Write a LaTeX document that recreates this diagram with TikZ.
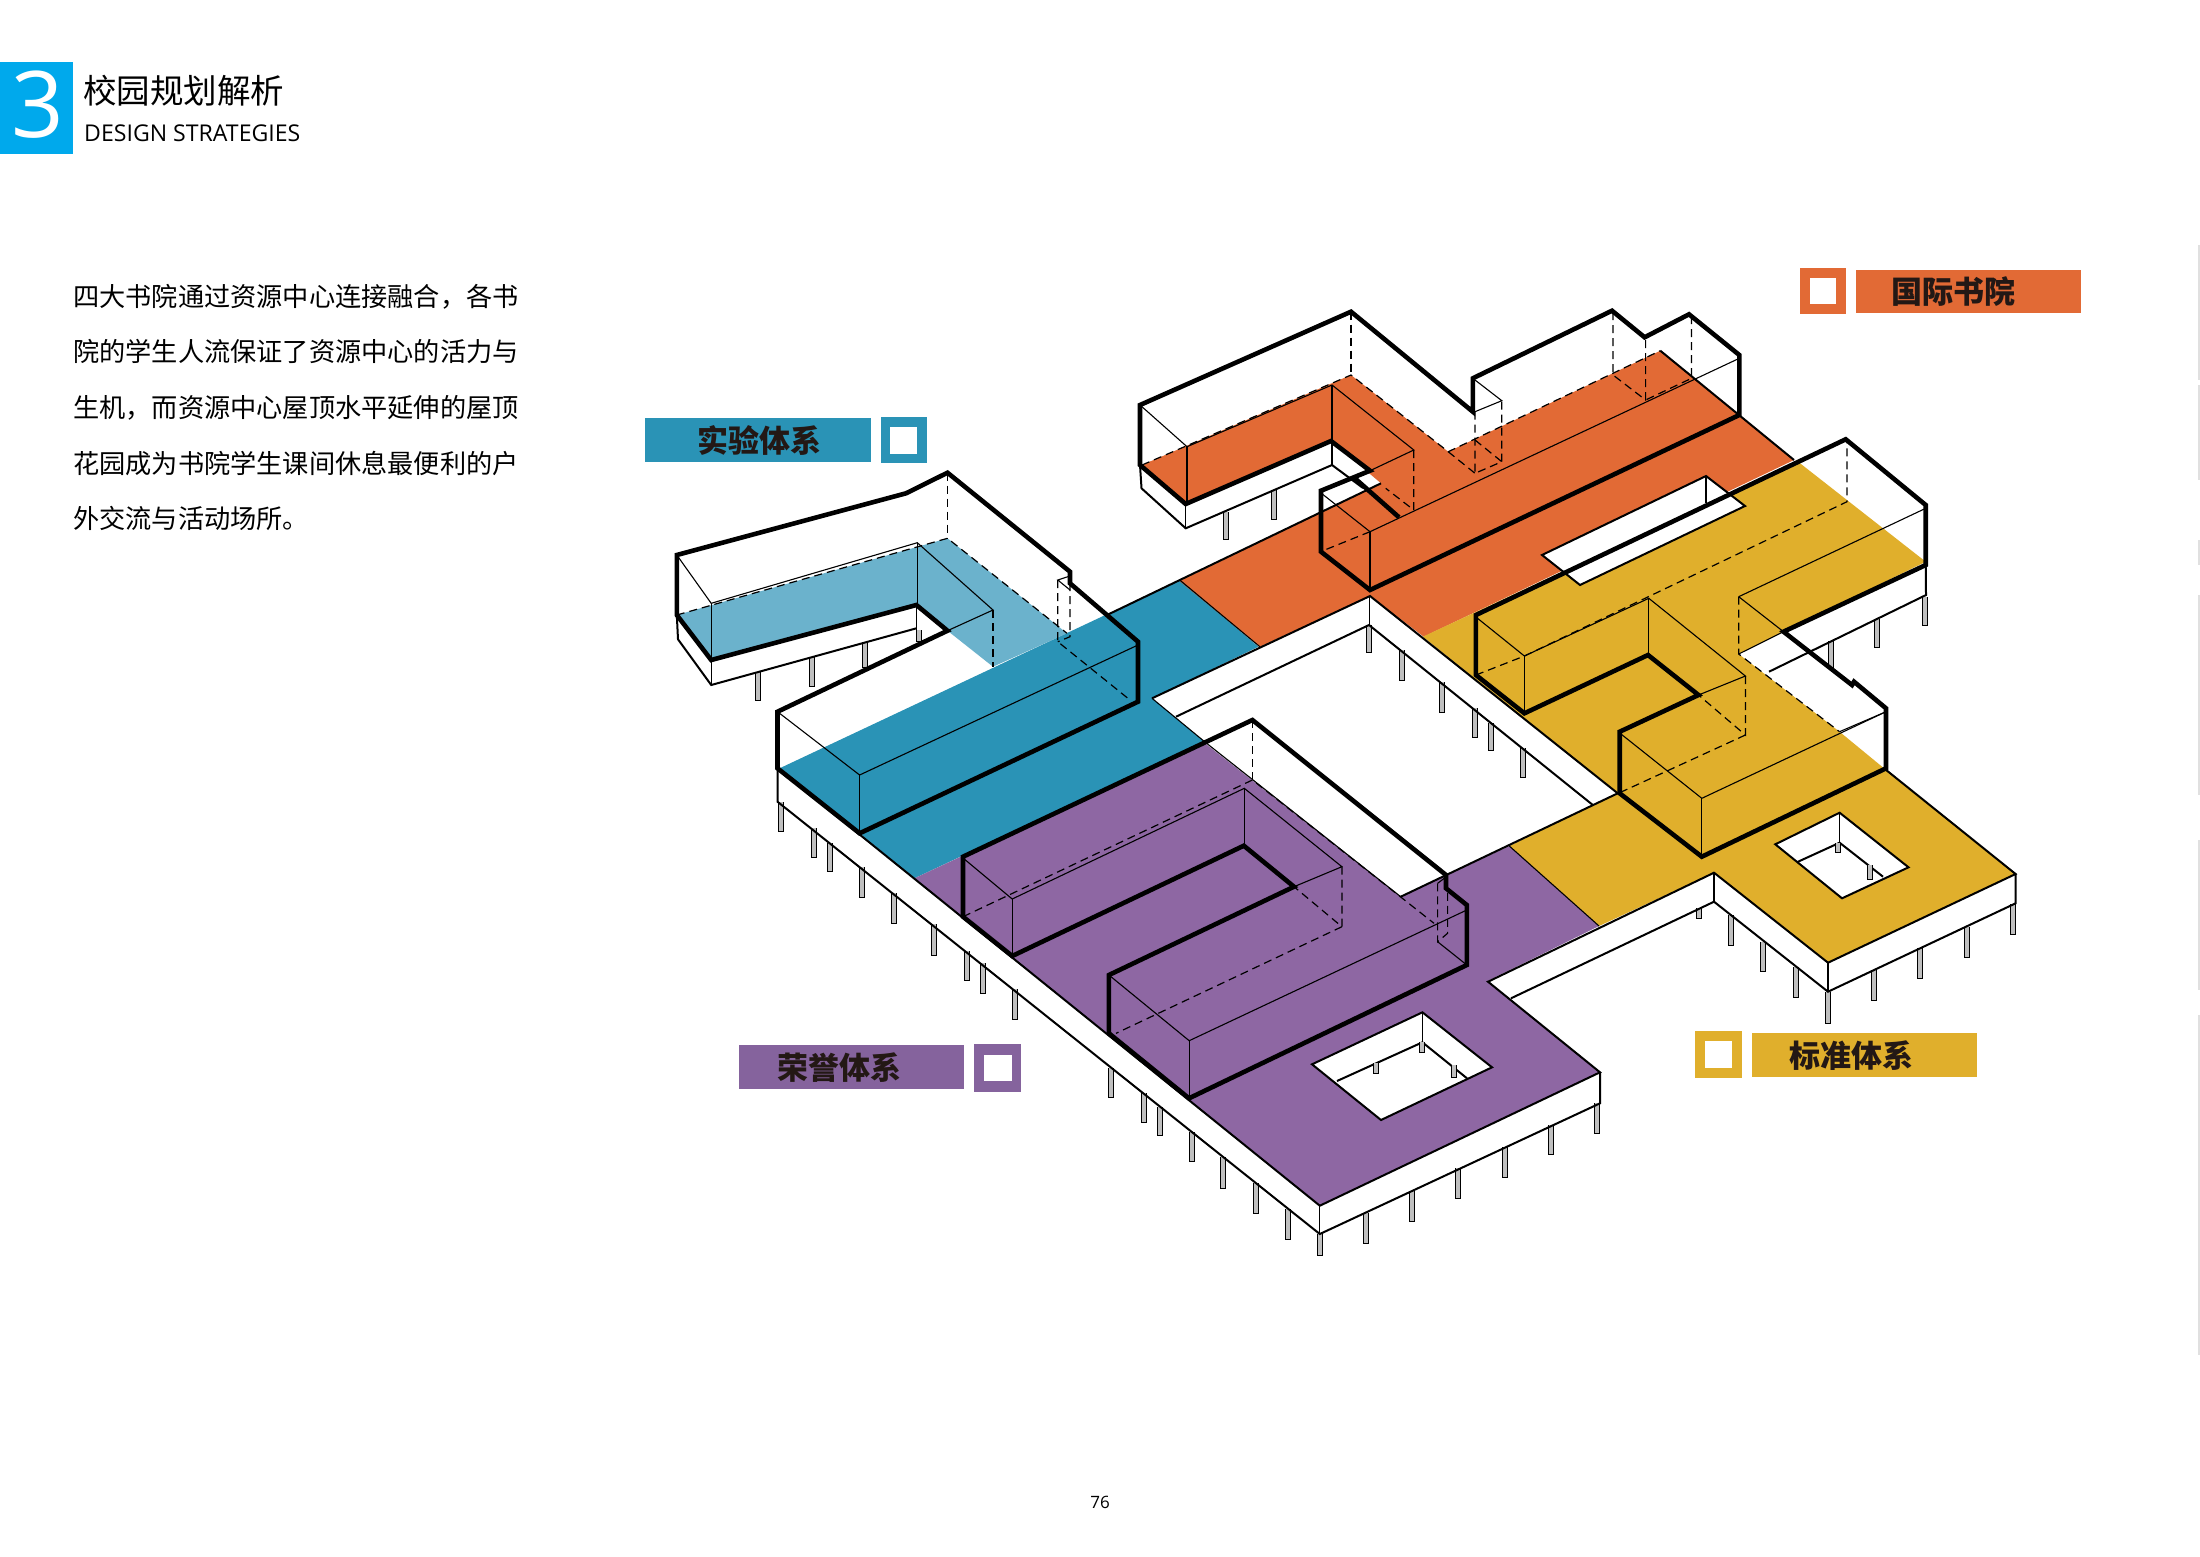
\documentclass[tikz,border=0pt]{standalone}
\usepackage{fontspec}
\setmainfont{Open Sans}
\newfontfamily\cjk{Noto Sans CJK SC}
\definecolor{cBlue}{HTML}{2A93B6}
\definecolor{cLight}{HTML}{6BB2CC}
\definecolor{cOrange}{HTML}{E26A35}
\definecolor{cYellow}{HTML}{E0AF2C}
\definecolor{cPurple}{HTML}{8E67A3}
\definecolor{cLegP}{HTML}{85639D}
\definecolor{cHead}{HTML}{00A9EC}
\definecolor{cInk}{HTML}{231815}
\tikzset{
  wall/.style={draw=black,line width=4.6,line join=miter},
  thin box/.style={draw=black,line width=1.1},
  edgeline/.style={draw=black,line width=2},
  hid/.style={draw=black,line width=1.2,dash pattern=on 8pt off 5pt},
  pillar/.style={draw=black,line width=1,fill=black!25},
  legtext/.style={font=\cjk\bfseries\fontsize{31}{31}\selectfont,text=cInk,inner sep=0},
  body/.style={font=\cjk\fontsize{26.2}{26.2}\selectfont,anchor=west,inner sep=0,text=black},
}
\begin{document}
\begin{tikzpicture}[x=1pt,y=-1pt]
\useasboundingbox (0,0) rectangle (2200,1556);
\fill[white] (0,0) rectangle (2200,1556);
% faint trace at the right edge of the page
\draw[black!12,line width=1.5] (2199,245) -- (2199,380) (2199,385) -- (2199,480) (2199,540) -- (2199,565) (2199,595) -- (2199,795) (2199,840) -- (2199,990) (2199,1015) -- (2199,1355);
% header
\fill[cHead] (0,61.7) rectangle (73,154.3);
\node[inner sep=0,text=white,font=\fontsize{92}{92}\selectfont] (num) at (37.5,104.5) {3};
\node[inner sep=0,anchor=west,font=\cjk\fontsize{33.5}{33.5}\selectfont] (title) at (83,91) {校园规划解析};
\node[inner sep=0,anchor=west,font=\fontsize{23.1}{23.1}\selectfont] (sub) at (84,133) {DESIGN STRATEGIES};
% paragraph
\node[body] (l1) at (73,296.7) {四大书院通过资源中心连接融合，各书};
\node[body] (l2) at (73,351.7) {院的学生人流保证了资源中心的活力与};
\node[body] (l3) at (73,408.3) {生机，而资源中心屋顶水平延伸的屋顶};
\node[body] (l4) at (73,463.3) {花园成为书院学生课间休息最便利的户};
\node[body] (l5) at (73,518.3) {外交流与活动场所。};
\node[inner sep=0,font=\fontsize{17}{17}\selectfont] (page) at (1100,1502) {76};
% legends
\fill[cBlue] (645,418) rectangle (871,462);
\fill[cBlue] (880.5,417) rectangle (927,463);
\fill[white] (890.3,427) rectangle (917.3,453.7);
\node[legtext] (lgb) at (759,440) {实验体系};
\fill[cOrange] (1856,269.5) rectangle (2080.6,313);
\fill[cOrange] (1800,268) rectangle (1846,314);
\fill[white] (1810,278) rectangle (1836,304);
\node[legtext] (lgo) at (1953,292) {国际书院};
\fill[cLegP] (739.4,1045.3) rectangle (964.4,1089.3);
\fill[cLegP] (974,1044.3) rectangle (1020.8,1091.7);
\fill[white] (983.5,1055) rectangle (1011.7,1081);
\node[legtext] (lgp) at (839.5,1067.7) {荣誉体系};
\fill[cYellow] (1751.6,1033) rectangle (1977,1077);
\fill[cYellow] (1695,1031) rectangle (1742,1078.3);
\fill[white] (1704.5,1041) rectangle (1732.4,1068.3);
\node[legtext] (lgy) at (1851,1055.5) {标准体系};
% pillars
\foreach \x/\a/\b in {
 758/672/700, 811.5/657/686, 864.6/642/667, 1226/512/539, 1274/490/519,
 781/802/831, 813.6/828/857, 830.4/843/871, 862/867/897, 893.5/893/923, 933.7/924/955, 966.7/951/980, 983/963/993, 1015/989/1019,
 1111.2/1068/1097, 1143.8/1093/1122, 1159.8/1107/1135, 1192.4/1132/1161, 1223.4/1157/1188, 1255.5/1183/1213, 1287.7/1209/1239, 1319.8/1234/1255,
 1365.7/1213/1243, 1412/1191/1221, 1458.3/1168/1198, 1504.6/1147/1177, 1551/1125/1154, 1596.5/1103/1133,
 1369/625/652, 1402/650/680, 1441.5/682/712, 1474.6/708/737, 1491/723/750, 1522.7/748/777,
 1924.5/597/625, 1876.8/619/647, 1831/641/668,
 1698.8/908/918, 1731/915/945, 1763.4/942/971, 1796/967/997, 1828/992/1023, 1874/970/1000, 1920.3/948/978, 1966.6/927/957, 2012.6/904/934,
 918.5/630/641}
 {\draw[pillar] ({\x-2.5},\a) -- ({\x-2.5},\b) -- ({\x+2.5},\b) -- ({\x+2.5},\a);}
% coloured roofs
\fill[cBlue] (779.6,768.3) -- (1179.7,580) -- (1258.5,646.7) -- (1152,698.3) -- (1204.6,741.7) -- (914.4,878.3) -- (859.6,833.3) -- cycle;
\fill[cLight] (676.8,615) -- (947.5,538.3) -- (1067,633.3) -- (993,666.7) -- (947.5,630.7) -- (916.4,605) -- (711.2,660) -- cycle;
\fill[cOrange] (1142,465) -- (1351,375) -- (1448.2,451.7) -- (1660.3,350.7) -- (1794,460) -- (1423.7,636.7) -- (1370,596) -- (1259.8,646.7) -- (1179.5,581) -- (1381,483.3) -- (1331.2,441) -- (1185.7,504) -- cycle;
\fill[cYellow] (1422.8,636.7) -- (1798,461.7) -- (1925.7,561.7) -- (1783.5,631.7) -- (1738.7,654) -- (1839.5,731.7) -- (1884,768.3) -- (2015.6,874) -- (1828,962.7) -- (1714,872.7) -- (1599,926) -- (1509.3,846) -- (1617.7,793.3) -- cycle;
\fill[cPurple] (914.4,878.3) -- (1204.6,743) -- (1400.7,896.7) -- (1509.3,846) -- (1599,926) -- (1487.5,981) -- (1600,1072.3) -- (1319.8,1205.7) -- cycle;
% holes
\draw[edgeline,fill=white] (1542,555) -- (1706,476) -- (1745,506) -- (1580,585) -- cycle;
\draw[thin box] (1706,476) -- (1706,503);
\draw[edgeline,fill=white] (1422.4,1012.3) -- (1492,1067.3) -- (1381,1120) -- (1312,1064.3) -- cycle;
\draw[edgeline] (1337,1081) -- (1422.4,1042.3) -- (1467,1078.3);
\draw[thin box] (1422.4,1012.3) -- (1422.4,1042.3);
\draw[edgeline,fill=white] (1839.6,812.7) -- (1908.5,867.3) -- (1842,898.3) -- (1775.3,844.3) -- cycle;
\draw[edgeline] (1798,861.7) -- (1839.6,842.7) -- (1883,876.7);
\draw[thin box] (1839.6,812.7) -- (1839.6,842.7);
\foreach \x/\a/\b in {1422/1042/1052, 1375.7/1063/1073, 1454/1065/1077, 1838/843/852, 1870/865/879}
 {\draw[pillar] ({\x-2.5},\a) -- ({\x-2.5},\b) -- ({\x+2.5},\b) -- ({\x+2.5},\a);}
% slab outlines
\draw[edgeline] (777.5,768.3) -- (1319.8,1205.7) -- (1600,1072.3) -- (1488,981.7) -- (1714,872.7) -- (1828,962.7) -- (2015.6,874) -- (1884,768.3);
\draw[edgeline] (777.5,768.3) -- (777.5,801.7) -- (1319.8,1234) -- (1600,1103.3) -- (1600,1072.3);
\draw[thin box] (1319.8,1205.7) -- (1319.8,1234);
\draw[edgeline] (1107,615) -- (1381,483.3);
\draw[edgeline] (1660.3,350.7) -- (1794,460);
\draw[edgeline] (1152,698.3) -- (1370,596) -- (1617.7,793.3) -- (1400.7,896.7);
\draw[edgeline] (1176,716.7) -- (1369,625) -- (1592.8,805);
\draw[thin box] (1369.5,596) -- (1369.5,625);
\draw[edgeline] (1511,998.3) -- (1714,901.7) -- (1828,991.7) -- (2015.6,903.3) -- (2015.6,874);
\draw[thin box] (1714,872.7) -- (1714,901.7) (1828,962.7) -- (1828,991.7);
\draw[thin box] (1152,698.3) -- (1204.6,741.7) (1179.7,580) -- (1259.8,646.7) (1400.7,896.7) -- (1204.6,741.7);
\draw[thin box] (1509.3,846) -- (1599,926);
\draw[edgeline] (1925.7,565) -- (1926,595) -- (1769,671.7);
% lower slab of the wings
\draw[edgeline] (676.8,615) -- (678,639.3) -- (711.2,685) -- (916.4,628.3);
\draw[thin box] (711.2,660) -- (711.2,685) (916.4,605) -- (916.4,642);
\draw[edgeline] (1140,465) -- (1141.5,488.3) -- (1185.7,528.3) -- (1332,465) -- (1363,488);
\draw[thin box] (1185.7,504) -- (1185.7,528.3) (1332,441) -- (1332,465);
% blue block
\draw[thin box] (676.8,555) -- (711.2,603.3) -- (917.3,542.7) -- (993,610) -- (947.5,630.7);
\draw[thin box] (711.2,603.3) -- (711.2,660) (917.3,542.7) -- (917.3,605);
\draw[hid] (676.8,615) -- (947.5,538.3) -- (1067,633.3);
\draw[hid] (993,610) -- (993,666.7);
\draw[hid] (947.5,472.7) -- (947.5,538.3);
\draw[hid] (1057.8,580) -- (1057.8,641.7) -- (1130,700);
\draw[hid] (1070,583) -- (1070,636.7) -- (1057.8,641.7);
\draw[thin box] (1070,576) -- (1057.8,580) -- (1070,590);
\draw[thin box] (777.5,711.7) -- (859.6,775) -- (1138,645);
\draw[thin box] (859.6,775) -- (859.6,833.3);
\draw[wall] (676.8,555) -- (906,493.3) -- (947.5,472.7) -- (1070,571.7) -- (1070,583.3) -- (1138,641.7) -- (1138,701.7) -- (859.6,833.3) -- (777.5,768.3) -- (777.5,711.7) -- (947.5,630.7) -- (916.4,605) -- (711.2,660) -- (676.8,615) -- cycle;
% orange block
\draw[thin box] (1140,405) -- (1187,446.7) -- (1332,385) -- (1413.8,450) -- (1370,470.7);
\draw[thin box] (1187,446.7) -- (1187,504) (1332,385) -- (1332,441);
\draw[hid] (1142,465) -- (1351,375) -- (1448.2,451.7) -- (1660.3,350.7);
\draw[hid] (1351,311.7) -- (1351,375);
\draw[hid] (1413.8,450) -- (1413.8,510) -- (1385.7,488.3);
\draw[thin box] (1472.8,378.3) -- (1501.8,400.7) -- (1475,411.7);
\draw[hid] (1475,411.7) -- (1475,473.3) -- (1501.8,461.7) -- (1501.8,400.7);
\draw[hid] (1475,440) -- (1501.8,461.7) (1448.2,451.7) -- (1475,473.3);
\draw[thin box] (1321,493) -- (1370,531.7) -- (1739.3,358.3);
\draw[thin box] (1370,531.7) -- (1370,590);
\draw[hid] (1370,531.7) -- (1323,550.7);
\draw[hid] (1613,312) -- (1613,375) -- (1645.6,400) -- (1645.6,338);
\draw[hid] (1691.5,316) -- (1691.5,378.3) -- (1645.6,400);
\draw[wall] (1140,405) -- (1351,311.7) -- (1472.8,411.7) -- (1472.8,378.3) -- (1612,310.7) -- (1644.6,337.3) -- (1689,314.3) -- (1739.3,355) -- (1739.3,415) -- (1370,590) -- (1321,551.7) -- (1321,490.7) -- (1370,470.7) -- (1331,441) -- (1185.7,504) -- (1140,465) -- cycle;
\draw[wall] (1354.5,478) -- (1399,517.3);
% yellow block
\draw[thin box] (1475.9,617) -- (1524.4,656) -- (1648.8,598.3) -- (1745.4,676) -- (1698.5,695);
\draw[thin box] (1524.4,656) -- (1524.4,713.3) (1648.8,598.3) -- (1648.8,655);
\draw[hid] (1475.9,675) -- (1524.4,656) -- (1847,501.7) -- (1847,439.3);
\draw[hid] (1745.4,676) -- (1745.4,735) -- (1698.5,695);
\draw[hid] (1745.4,735) -- (1621.8,791.7);
\draw[thin box] (1619.7,733) -- (1701.8,798.3) -- (1886,711.7);
\draw[thin box] (1701.8,798.3) -- (1701.8,856.7);
\draw[thin box] (1738.7,596.7) -- (1925.7,508.3) (1738.7,596.7) -- (1783.5,631.7);
\draw[hid] (1738.7,596.7) -- (1738.7,654) -- (1839.5,731.7);
\draw[thin box] (1738.7,654) -- (1783.5,631.7);
\draw[thin box] (1839.5,731.7) -- (1886,711.7);
\draw[wall] (1475.9,615) -- (1845.7,439.3) -- (1925.7,505) -- (1925.7,565) -- (1783.5,631.7) -- (1852,685) -- (1854,681.7) -- (1886,708.3) -- (1886,768.3) -- (1701.8,856.7) -- (1619.7,793.3) -- (1619.7,731.7) -- (1698.5,695) -- (1648,655) -- (1524.4,713.3) -- (1475.9,675) -- cycle;
% purple block
\draw[thin box] (963,858) -- (1012.2,899) -- (1244.3,788.3) -- (1341.9,866.7) -- (1294,886.7);
\draw[thin box] (1012.2,899) -- (1012.2,956) (1244.3,788.3) -- (1244.3,845.7);
\draw[hid] (1341.9,866.7) -- (1341.9,926.7) -- (1294,886.7);
\draw[hid] (1341.9,926.7) -- (1116,1033.3);
\draw[thin box] (1108.9,975) -- (1189.2,1040.7) -- (1466.8,910);
\draw[thin box] (1189.2,1040.7) -- (1189.2,1098.3);
\draw[hid] (963,916.7) -- (1252.4,780) -- (1434,923.3);
\draw[hid] (1252.4,720) -- (1252.4,780);
\draw[hid] (1437.6,883.3) -- (1437.6,941.7) -- (1447.6,933.3) -- (1447.6,888);
\draw[thin box] (1437.6,941.7) -- (1466.8,965) (1437.6,883.3) -- (1446,877);
\draw[wall] (963,856.7) -- (1252.4,720) -- (1446,875) -- (1446,888.3) -- (1466.8,905) -- (1466.8,965) -- (1189,1098.3) -- (1108.9,1033.3) -- (1108.9,975) -- (1294,886.7) -- (1243.8,845.7) -- (1012.2,956) -- (963,916.7) -- cycle;
\end{tikzpicture}
\end{document}
